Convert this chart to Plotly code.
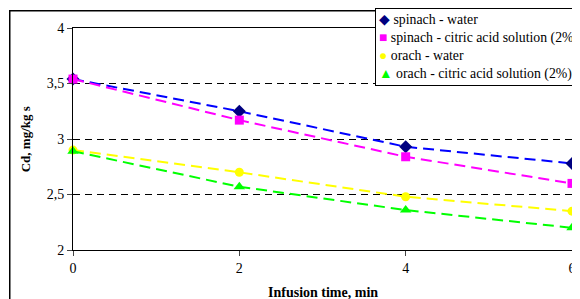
import plotly.graph_objects as go

time_min = [0, 2, 4, 6]
spinach_water = [3.54, 3.25, 2.93, 2.78]
spinach_citric = [3.54, 3.17, 2.84, 2.60]
orach_water = [2.90, 2.70, 2.48, 2.35]
orach_citric = [2.89, 2.57, 2.36, 2.20]

series = [
    ("spinach - water", spinach_water, "#0000FF", "#000080", "diamond", 10, "◆"),
    ("spinach - citric acid solution (2%)", spinach_citric, "#FF00FF", "#FF00FF", "square", 9, "■"),
    ("orach - water", orach_water, "#FFFF00", "#FFFF00", "circle", 9, "●"),
    ("orach - citric acid solution (2%)", orach_citric, "#00FF00", "#00FF00", "triangle-up", 10, "▲"),
]

FONT = "Liberation Serif, Times New Roman, serif"

fig = go.Figure()
for name, vals, lc, mc, sym, sz, glyph in series:
    fig.add_trace(go.Scatter(
        x=time_min, y=vals, name=name, mode="lines+markers",
        line=dict(color=lc, width=2, dash="11px,6px"),
        marker=dict(color=mc, symbol=sym, size=sz),
        cliponaxis=False, showlegend=False,
    ))

legend_text = "<br>".join(
    f'<span style="color:{mc}">{glyph}</span> {name}'
    for name, vals, lc, mc, sym, sz, glyph in series
)

fig.update_layout(
    width=580, height=299,
    margin=dict(l=65, r=13, t=20, b=57),
    paper_bgcolor="white", plot_bgcolor="white",
    separators=", ",
    font=dict(family=FONT, size=14, color="black"),
    showlegend=False,
    xaxis=dict(
        range=[0, 6], tickvals=[0, 2, 4, 6], ticks="outside", ticklen=5,
        showline=True, linecolor="black", linewidth=1, mirror=True,
        showgrid=False, zeroline=False,
    ),
    yaxis=dict(
        range=[2, 4], tickvals=[2, 2.5, 3, 3.5, 4], ticks="outside", ticklen=5,
        showline=True, linecolor="black", linewidth=1, mirror=True,
        showgrid=True, gridcolor="black", griddash="7px,5px", gridwidth=1,
        zeroline=False,
    ),
    annotations=[
        dict(text=" ", xref="paper", yref="paper",
             x=(1 - 65) / 502, y=(242 - 2) / 222, xanchor="left", yanchor="top",
             width=620, height=330, showarrow=False,
             bgcolor="rgba(0,0,0,0)", bordercolor="black", borderwidth=1.5,
             borderpad=0),
        dict(text="<b>Infusion time, min</b>", xref="paper", yref="paper",
             x=0.5, y=(250 - 292) / 222, xanchor="center", yanchor="middle",
             showarrow=False, font=dict(family=FONT, size=14)),
        dict(text="<b>Cd, mg/kg s</b>", xref="paper", yref="paper",
             x=(25 - 73) / 502, y=0.5, xanchor="center", yanchor="middle",
             textangle=-90, showarrow=False, font=dict(family=FONT, size=13)),
        dict(text=legend_text, xref="paper", yref="paper",
             x=(377 - 73) / 502, y=(250 - 8) / 222, xanchor="left", yanchor="top",
             align="left", showarrow=False, font=dict(family=FONT, size=13.8),
             bgcolor="white", bordercolor="black", borderwidth=1, borderpad=3),
    ],
)

fig.write_html("out.html")
